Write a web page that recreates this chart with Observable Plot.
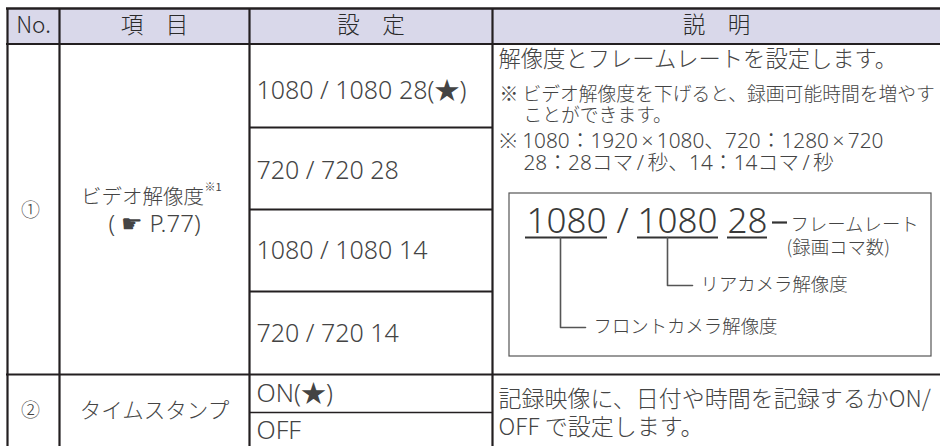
<!DOCTYPE html>
<html>
<head>
<meta charset="utf-8">
<script src="https://cdn.jsdelivr.net/npm/d3@7"></script>
<script src="https://cdn.jsdelivr.net/npm/@observablehq/plot@0.6"></script>
<style>
  html, body { margin: 0; padding: 0; background: #fff; }
  svg { display: block; }
</style>
</head>
<body>
<div id="chart"></div>
<script>
// ---------- content ----------
const headers = ["No.", "項　目", "設　定", "説　明"];
const numbers = ["①", "②"];
const items = ["ビデオ解像度", "タイムスタンプ"];
const itemNote = "※1";
const itemRef = "( ☛ P.77)";
const settingsVideo = ["1080 / 1080 28(★)", "720 / 720 28", "1080 / 1080 14", "720 / 720 14"];
const settingsStamp = ["ON(★)", "OFF"];
const descVideoMain = "解像度とフレームレートを設定します。";
const descVideoNotes = [
  "※ ビデオ解像度を下げると、録画可能時間を増やす",
  "ことができます。",
  "※ 1080：1920\u2009×\u20091080、720：1280\u2009×\u2009720",
  "28：28コマ\u2009/\u2009秒、14：14コマ\u2009/\u2009秒"
];
const descStamp = ["記録映像に、日付や時間を記録するかON/", "OFF で設定します。"];
const diagramParts = ["1080", "/", "1080", "28"];
const diagramLabels = ["フレームレート", "(録画コマ数)", "リアカメラ解像度", "フロントカメラ解像度"];

// ---------- layout (page pixels) ----------
const W = 940, H = 446;
const colEdges = [7, 59, 249, 492, 940];
const rowEdges = [8, 43.5, 127, 209, 291, 374, 412, 446];
const setRowY = [90, 170, 250, 333, 393, 430];
const noteY = [94, 115, 141, 163];
const diag = {
  box: {x1: 509, x2: 931, y1: 193, y2: 356},
  partX: [566, 622, 677, 747], partY: 221,
  underline: [[525, 607], [637, 718], [727, 767]], underlineY: 237,
  dash: [772, 787], dashY: 222,
  labelPos: [[790, 225], [786, 248], [700, 285], [593, 327]],
  elbows: [
    [[560, 237], [560, 327], [585, 327]],
    [[667, 237], [667, 285], [692, 285]]
  ]
};

const CJK = "'Noto Sans CJK JP', 'Noto Sans', sans-serif";
const LAT = "'Noto Sans', 'Noto Sans CJK JP', sans-serif";
const TXT = "#444";
const LINE = "#231f20";
const LIGHT = 300;

const colCenter = i => (colEdges[i] + colEdges[i + 1]) / 2;

// table data built from arrays
const headerCells = headers.map((h, i) => ({text: h, x: colCenter(i), y: (rowEdges[0] + rowEdges[1]) / 2}));
const settingCells = [...settingsVideo, ...settingsStamp].map((s, i) => ({text: s, x: colEdges[2] + 7, y: setRowY[i]}));
const numberCells = numbers.map((n, i) => ({text: n, x: colCenter(0) - 3, y: i === 0 ? 210 : 410}));

const vRules = colEdges.slice(0, 4).map(x => ({x, y1: rowEdges[0], y2: H}));
const hRules = [
  {y: rowEdges[0], x1: colEdges[0] - 1, x2: W, w: 2.5},
  {y: rowEdges[1], x1: colEdges[0] - 1, x2: W, w: 2.2},
  {y: rowEdges[2], x1: colEdges[2], x2: colEdges[3], w: 2},
  {y: rowEdges[3], x1: colEdges[2], x2: colEdges[3], w: 2},
  {y: rowEdges[4], x1: colEdges[2], x2: colEdges[3], w: 2},
  {y: rowEdges[5], x1: colEdges[0] - 1, x2: W, w: 2},
  {y: rowEdges[6], x1: colEdges[2], x2: colEdges[3], w: 1.6}
];

const partCells = diagramParts.map((p, i) => ({text: p, x: diag.partX[i], y: diag.partY}));
const labelCells = diagramLabels.map((t, i) => ({text: t, x: diag.labelPos[i][0], y: diag.labelPos[i][1]}));
const elbowPts = diag.elbows.flatMap((pts, k) => pts.map(([x, y]) => ({x, y, k})));
const noteCells = descVideoNotes.map((t, i) => ({t, x: i % 2 ? 523 : 499, y: noteY[i]}));

const chart = Plot.plot({
  width: W, height: H,
  margin: 0,
  x: {domain: [0, W], range: [0, W], axis: null},
  y: {domain: [0, H], range: [0, H], axis: null},
  style: {background: "#fff", overflow: "visible"},
  marks: [
    // header fill
    Plot.rect([{}], {x1: colEdges[0], x2: W, y1: rowEdges[0], y2: rowEdges[1], fill: "#d9d8ea"}),
    // grid
    Plot.ruleX(vRules, {x: "x", y1: "y1", y2: "y2", stroke: LINE, strokeWidth: 2.2}),
    ...hRules.map(r => Plot.ruleY([r], {y: "y", x1: "x1", x2: "x2", stroke: LINE, strokeWidth: r.w})),
    // header text
    Plot.text(headerCells, {x: "x", y: "y", text: "text", fontSize: 22.5, fill: "#2a2a2a", fontFamily: CJK, fontWeight: LIGHT}),
    // numbers
    Plot.text(numberCells, {x: "x", y: "y", text: "text", fontSize: 19, fill: TXT, fontFamily: CJK, fontWeight: LIGHT}),
    // items
    Plot.text([items[0]], {x: colCenter(1) - 12, y: 197, text: d => d, fontSize: 20.5, fill: TXT, fontFamily: CJK, fontWeight: LIGHT}),
    Plot.text([itemNote], {x: 204, y: 187, text: d => d, fontSize: 11, fill: TXT, fontFamily: CJK, textAnchor: "start"}),
    Plot.text([itemRef], {x: colCenter(1), y: 224, text: d => d, fontSize: 24, fill: TXT, fontFamily: "'Noto Sans', 'DejaVu Sans', sans-serif", fontWeight: LIGHT}),
    Plot.text([items[1]], {x: colCenter(1), y: 411, text: d => d, fontSize: 21.5, fill: TXT, fontFamily: CJK, fontWeight: LIGHT}),
    // settings
    Plot.text(settingCells, {x: "x", y: "y", text: "text", fontSize: 25, fill: TXT, fontFamily: LAT, fontWeight: LIGHT, textAnchor: "start"}),
    // descriptions
    Plot.text([descVideoMain], {x: 498, y: 59, text: d => d, fontSize: 22.3, fill: TXT, fontFamily: CJK, fontWeight: LIGHT, textAnchor: "start"}),
    Plot.text(noteCells.slice(0, 2), {x: "x", y: "y", text: "t", fontSize: 18.8, fill: TXT, fontFamily: CJK, fontWeight: LIGHT, textAnchor: "start"}),
    Plot.text(noteCells.slice(2), {x: "x", y: "y", text: "t", fontSize: 20.8, fill: TXT, fontFamily: LAT, fontWeight: LIGHT, textAnchor: "start"}),
    Plot.text(descStamp.map((t, i) => ({t, y: [399, 427][i]})),
      {x: 498, y: "y", text: "t", fontSize: 23, fill: TXT, fontFamily: CJK, fontWeight: LIGHT, textAnchor: "start"}),
    // diagram box
    Plot.rect([diag.box], {x1: "x1", x2: "x2", y1: "y1", y2: "y2", fill: "none", stroke: "#555", strokeWidth: 1.2}),
    Plot.text(partCells, {x: "x", y: "y", text: "text", fontSize: 35, fill: "#3a3a3a", fontFamily: LAT, fontWeight: LIGHT}),
    ...diag.underline.map(([a, b]) => Plot.ruleY([diag.underlineY], {x1: a, x2: b, stroke: "#333", strokeWidth: 2})),
    Plot.ruleY([diag.dashY], {x1: diag.dash[0], x2: diag.dash[1], stroke: "#333", strokeWidth: 2.2}),
    Plot.line(elbowPts, {x: "x", y: "y", z: "k", stroke: "#555", strokeWidth: 1.6}),
    Plot.text(labelCells, {x: "x", y: "y", text: "text", fontSize: 18.4, fill: TXT, fontFamily: CJK, fontWeight: LIGHT, textAnchor: "start"})
  ]
});
document.getElementById("chart").appendChild(chart);
</script>
</body>
</html>
